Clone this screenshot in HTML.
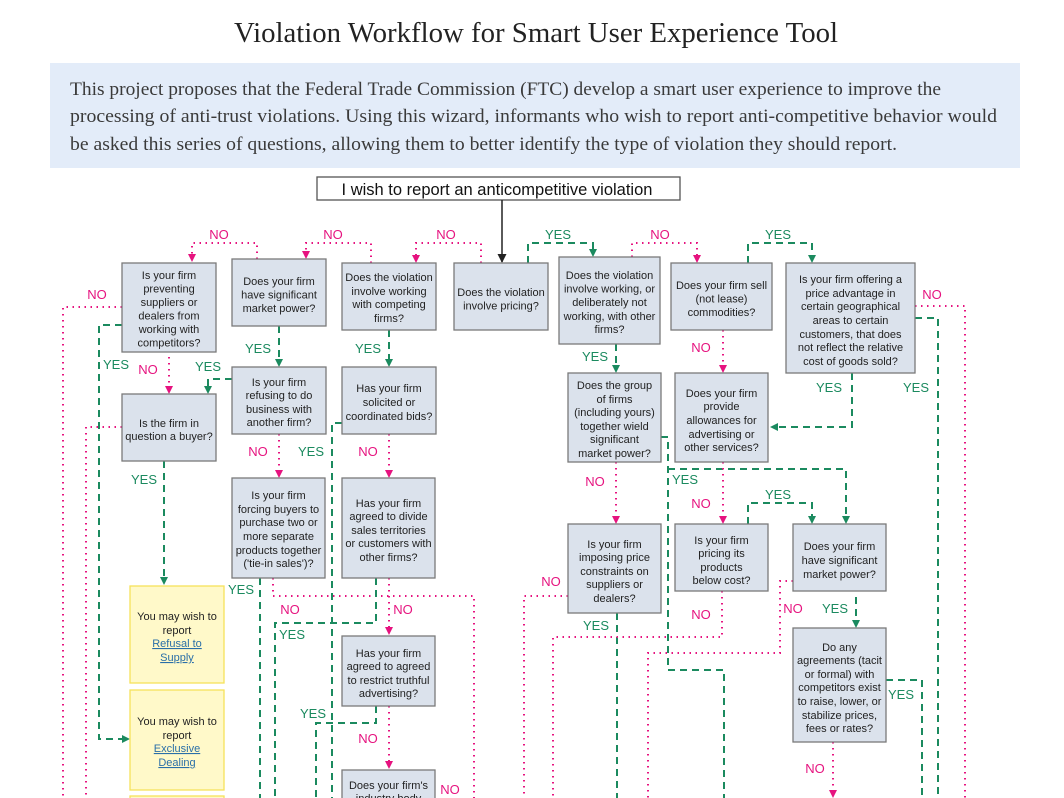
<!DOCTYPE html>
<html><head><meta charset="utf-8"><style>
html,body{margin:0;padding:0;background:#fff;width:1064px;height:798px;overflow:hidden}
svg{display:block}
.bx{fill:#dbe2ec;stroke:#7a7a7a;stroke-width:1.3}
.yb{fill:#fff9c9;stroke:#f6e25a;stroke-width:1.3}
.bt{font-family:"Liberation Sans",sans-serif;font-size:11px;fill:#222;text-anchor:middle}
.lk{fill:#2a6fa8;text-decoration:underline}
.p{fill:none;stroke:#e6137f;stroke-width:2;stroke-dasharray:1.5 4.5}
.g{fill:none;stroke:#1b8a5f;stroke-width:2;stroke-dasharray:7 5}
.no{font-family:"Liberation Sans",sans-serif;font-size:13px;fill:#e6137f;text-anchor:middle}
.ye{font-family:"Liberation Sans",sans-serif;font-size:13px;fill:#1b8a5f;text-anchor:middle}
</style></head><body>
<svg width="1064" height="798" viewBox="0 0 1064 798" xmlns="http://www.w3.org/2000/svg">
<defs>
<marker id="ap" markerWidth="8" markerHeight="8" refX="4" refY="4" orient="auto" markerUnits="userSpaceOnUse"><path d="M0,0L8,4L0,8z" fill="#e6137f"/></marker>
<marker id="ag" markerWidth="8" markerHeight="8" refX="4" refY="4" orient="auto" markerUnits="userSpaceOnUse"><path d="M0,0L8,4L0,8z" fill="#1b8a5f"/></marker>
<marker id="ak" markerWidth="9" markerHeight="9" refX="8" refY="4.5" orient="auto" markerUnits="userSpaceOnUse"><path d="M0,0L9,4.5L0,9z" fill="#222"/></marker>
</defs>
<text x="536" y="42" text-anchor="middle" font-family="Liberation Serif,serif" font-size="29" fill="#222" textLength="604" lengthAdjust="spacingAndGlyphs">Violation Workflow for Smart User Experience Tool</text>
<rect x="50" y="63" width="970" height="105" fill="#e3ecf9"/>
<g font-family="Liberation Serif,serif" font-size="18.5" fill="#3a3a3a">
<text x="70" y="95" textLength="871" lengthAdjust="spacingAndGlyphs">This project proposes that the Federal Trade Commission (FTC) develop a smart user experience to improve the</text>
<text x="70" y="122" textLength="927" lengthAdjust="spacingAndGlyphs">processing of anti-trust violations. Using this wizard, informants who wish to report anti-competitive behavior would</text>
<text x="70" y="150" textLength="827" lengthAdjust="spacingAndGlyphs">be asked this series of questions, allowing them to better identify the type of violation they should report.</text>
</g>
<rect x="317" y="177" width="363" height="23" fill="#fff" stroke="#555" stroke-width="1.3"/>
<text x="497" y="195" text-anchor="middle" font-family="Liberation Sans,sans-serif" font-size="16.5" fill="#111">I wish to report an anticompetitive violation</text>
<path d="M502,200V262" stroke="#222" stroke-width="1.5" marker-end="url(#ak)"/>

<!-- connectors -->
<path class="p" d="M257,259V243H192V258" marker-end="url(#ap)"/>
<path class="p" d="M371,263V243H306V255" marker-end="url(#ap)"/>
<path class="p" d="M481,263V243H416V259" marker-end="url(#ap)"/>
<path class="g" d="M528,263V243H593V253" marker-end="url(#ag)"/>
<path class="p" d="M632,257V243H697V259" marker-end="url(#ap)"/>
<path class="g" d="M748,263V243H812V259" marker-end="url(#ag)"/>
<path class="p" d="M915,306H965V798"/>
<path class="g" d="M915,318H938V798"/>
<path class="g" d="M852,373V427H774" marker-end="url(#ag)"/>
<path class="p" d="M723,330V369" marker-end="url(#ap)"/>
<path class="g" d="M616,344V369" marker-end="url(#ag)"/>
<path class="p" d="M122,307H63V798"/>
<path class="g" d="M122,325H99V739H126" marker-end="url(#ag)"/>
<path class="p" d="M169,351V390" marker-end="url(#ap)"/>
<path class="g" d="M232,379H208V390" marker-end="url(#ag)"/>
<path class="g" d="M279,326V363" marker-end="url(#ag)"/>
<path class="g" d="M389,330V363" marker-end="url(#ag)"/>
<path class="p" d="M122,427H86V798"/>
<path class="g" d="M164,461V581" marker-end="url(#ag)"/>
<path class="p" d="M279,434V474" marker-end="url(#ap)"/>
<path class="p" d="M389,434V474" marker-end="url(#ap)"/>
<path class="g" d="M342,423H332V798"/>
<path class="g" d="M260,578V798"/>
<path class="p" d="M273,578V596H474V798"/>
<path class="g" d="M376,578V623H275V798"/>
<path class="p" d="M389,578V631" marker-end="url(#ap)"/>
<path class="p" d="M568,596H524V798"/>
<path class="g" d="M376,706V723H316V798"/>
<path class="p" d="M389,706V765" marker-end="url(#ap)"/>
<path class="p" d="M616,462V520" marker-end="url(#ap)"/>
<path class="g" d="M661,437H668V670H724V798"/>
<path class="g" d="M668,469H846V520" marker-end="url(#ag)"/>
<path class="p" d="M723,462V520" marker-end="url(#ap)"/>
<path class="g" d="M748,524V503H812V520" marker-end="url(#ag)"/>
<path class="g" d="M617,613V798"/>
<path class="p" d="M722,591V637H553V798"/>
<path class="p" d="M793,581H780V653H648V798"/>
<path class="g" d="M856,597V624" marker-end="url(#ag)"/>
<path class="g" d="M886,680H922V798"/>
<path class="p" d="M833,742V794" marker-end="url(#ap)"/>

<!-- labels -->
<text class="no" x="219" y="239">NO</text><text class="no" x="333" y="239">NO</text><text class="no" x="446" y="239">NO</text>
<text class="ye" x="558" y="239">YES</text><text class="no" x="660" y="239">NO</text><text class="ye" x="778" y="239">YES</text>
<text class="no" x="932" y="299">NO</text><text class="no" x="97" y="299">NO</text>
<text class="ye" x="116" y="369">YES</text><text class="no" x="148" y="374">NO</text><text class="ye" x="208" y="371">YES</text>
<text class="ye" x="258" y="353">YES</text><text class="ye" x="368" y="353">YES</text>
<text class="ye" x="595" y="361">YES</text><text class="no" x="701" y="352">NO</text>
<text class="ye" x="829" y="392">YES</text><text class="ye" x="916" y="392">YES</text>
<text class="ye" x="144" y="484">YES</text><text class="no" x="258" y="456">NO</text><text class="ye" x="311" y="456">YES</text><text class="no" x="368" y="456">NO</text>
<text class="no" x="595" y="486">NO</text><text class="ye" x="685" y="484">YES</text><text class="no" x="701" y="508">NO</text><text class="ye" x="778" y="499">YES</text>
<text class="ye" x="241" y="594">YES</text><text class="no" x="290" y="614">NO</text><text class="no" x="403" y="614">NO</text><text class="ye" x="292" y="639">YES</text>
<text class="no" x="551" y="586">NO</text><text class="ye" x="596" y="630">YES</text><text class="no" x="701" y="619">NO</text>
<text class="no" x="793" y="613">NO</text><text class="ye" x="835" y="613">YES</text><text class="ye" x="901" y="699">YES</text>
<text class="ye" x="313" y="718">YES</text><text class="no" x="368" y="743">NO</text><text class="no" x="450" y="794">NO</text><text class="no" x="815" y="773">NO</text>

<!-- boxes -->
<rect class="bx" x="122" y="263" width="94" height="89"/>
<text class="bt"><tspan x="169" y="279">Is your firm</tspan><tspan x="169" y="292.5">preventing</tspan><tspan x="169" y="306">suppliers or</tspan><tspan x="169" y="319.5">dealers from</tspan><tspan x="169" y="333">working with</tspan><tspan x="169" y="346.5">competitors?</tspan></text>
<rect class="bx" x="232" y="259" width="94" height="67"/>
<text class="bt"><tspan x="279" y="285">Does your firm</tspan><tspan x="279" y="298.5">have significant</tspan><tspan x="279" y="312">market power?</tspan></text>
<rect class="bx" x="342" y="263" width="94" height="67"/>
<text class="bt"><tspan x="389" y="281">Does the violation</tspan><tspan x="389" y="295">involve working</tspan><tspan x="389" y="308">with competing</tspan><tspan x="389" y="322">firms?</tspan></text>
<rect class="bx" x="454" y="263" width="94" height="67"/>
<text class="bt"><tspan x="501" y="296">Does the violation</tspan><tspan x="501" y="309.5">involve pricing?</tspan></text>
<rect class="bx" x="559" y="257" width="101" height="87"/>
<text class="bt"><tspan x="609.5" y="279">Does the violation</tspan><tspan x="609.5" y="292.5">involve working, or</tspan><tspan x="609.5" y="306">deliberately not</tspan><tspan x="609.5" y="320">working, with other</tspan><tspan x="609.5" y="333">firms?</tspan></text>
<rect class="bx" x="671" y="263" width="101" height="67"/>
<text class="bt"><tspan x="721.5" y="289">Does your firm sell</tspan><tspan x="721.5" y="302.5">(not lease)</tspan><tspan x="721.5" y="316">commodities?</tspan></text>
<rect class="bx" x="786" y="263" width="129" height="110"/>
<text class="bt"><tspan x="850.5" y="283">Is your firm offering a</tspan><tspan x="850.5" y="297">price advantage in</tspan><tspan x="850.5" y="310">certain geographical</tspan><tspan x="850.5" y="324">areas to certain</tspan><tspan x="850.5" y="338">customers, that does</tspan><tspan x="850.5" y="351">not reflect the relative</tspan><tspan x="850.5" y="365">cost of goods sold?</tspan></text>
<rect class="bx" x="122" y="394" width="94" height="67"/>
<text class="bt"><tspan x="169" y="427">Is the firm in</tspan><tspan x="169" y="440">question a buyer?</tspan></text>
<rect class="bx" x="232" y="367" width="94" height="67"/>
<text class="bt"><tspan x="279" y="386">Is your firm</tspan><tspan x="279" y="399">refusing to do</tspan><tspan x="279" y="413">business with</tspan><tspan x="279" y="426">another firm?</tspan></text>
<rect class="bx" x="342" y="367" width="94" height="67"/>
<text class="bt"><tspan x="389" y="392">Has your firm</tspan><tspan x="389" y="406">solicited or</tspan><tspan x="389" y="420">coordinated bids?</tspan></text>
<rect class="bx" x="568" y="373" width="93" height="89"/>
<text class="bt"><tspan x="614.5" y="389">Does the group</tspan><tspan x="614.5" y="403">of firms</tspan><tspan x="614.5" y="416">(including yours)</tspan><tspan x="614.5" y="430">together wield</tspan><tspan x="614.5" y="443">significant</tspan><tspan x="614.5" y="457">market power?</tspan></text>
<rect class="bx" x="675" y="373" width="93" height="89"/>
<text class="bt"><tspan x="721.5" y="397">Does your firm</tspan><tspan x="721.5" y="410">provide</tspan><tspan x="721.5" y="424">allowances for</tspan><tspan x="721.5" y="438">advertising or</tspan><tspan x="721.5" y="451">other services?</tspan></text>
<rect class="bx" x="232" y="478" width="93" height="100"/>
<text class="bt"><tspan x="278.5" y="499">Is your firm</tspan><tspan x="278.5" y="513">forcing buyers to</tspan><tspan x="278.5" y="526">purchase two or</tspan><tspan x="278.5" y="540">more separate</tspan><tspan x="278.5" y="554">products together</tspan><tspan x="278.5" y="567">('tie-in sales')?</tspan></text>
<rect class="bx" x="342" y="478" width="93" height="100"/>
<text class="bt"><tspan x="388.5" y="507">Has your firm</tspan><tspan x="388.5" y="520">agreed to divide</tspan><tspan x="388.5" y="534">sales territories</tspan><tspan x="388.5" y="547">or customers with</tspan><tspan x="388.5" y="561">other firms?</tspan></text>
<rect class="bx" x="568" y="524" width="93" height="89"/>
<text class="bt"><tspan x="614.5" y="548">Is your firm</tspan><tspan x="614.5" y="561">imposing price</tspan><tspan x="614.5" y="575">constraints on</tspan><tspan x="614.5" y="588">suppliers or</tspan><tspan x="614.5" y="602">dealers?</tspan></text>
<rect class="bx" x="675" y="524" width="93" height="67"/>
<text class="bt"><tspan x="721.5" y="544">Is your firm</tspan><tspan x="721.5" y="557">pricing its</tspan><tspan x="721.5" y="571">products</tspan><tspan x="721.5" y="584">below cost?</tspan></text>
<rect class="bx" x="793" y="524" width="93" height="67"/>
<text class="bt"><tspan x="839.5" y="550">Does your firm</tspan><tspan x="839.5" y="564">have significant</tspan><tspan x="839.5" y="578">market power?</tspan></text>
<rect class="bx" x="793" y="628" width="93" height="114"/>
<text class="bt"><tspan x="839.5" y="651">Do any</tspan><tspan x="839.5" y="664">agreements (tacit</tspan><tspan x="839.5" y="678">or formal) with</tspan><tspan x="839.5" y="691">competitors exist</tspan><tspan x="839.5" y="705">to raise, lower, or</tspan><tspan x="839.5" y="719">stabilize prices,</tspan><tspan x="839.5" y="732">fees or rates?</tspan></text>
<rect class="bx" x="342" y="636" width="93" height="70"/>
<text class="bt"><tspan x="388.5" y="657">Has your firm</tspan><tspan x="388.5" y="670">agreed to agreed</tspan><tspan x="388.5" y="684">to restrict truthful</tspan><tspan x="388.5" y="697">advertising?</tspan></text>
<rect class="bx" x="342" y="770" width="93" height="40"/>
<text class="bt"><tspan x="388.5" y="789">Does your firm's</tspan><tspan x="388.5" y="802">industry body</tspan></text>
<rect class="yb" x="130" y="586" width="94" height="97"/>
<text class="bt"><tspan x="177" y="620">You may wish to</tspan><tspan x="177" y="634">report</tspan><tspan x="177" y="647" class="lk">Refusal to</tspan><tspan x="177" y="661" class="lk">Supply</tspan></text>
<rect class="yb" x="130" y="690" width="94" height="100"/>
<text class="bt"><tspan x="177" y="725">You may wish to</tspan><tspan x="177" y="739">report</tspan><tspan x="177" y="752" class="lk">Exclusive</tspan><tspan x="177" y="766" class="lk">Dealing</tspan></text>
<rect class="yb" x="130" y="796" width="94" height="20"/>
</svg>
</body></html>
